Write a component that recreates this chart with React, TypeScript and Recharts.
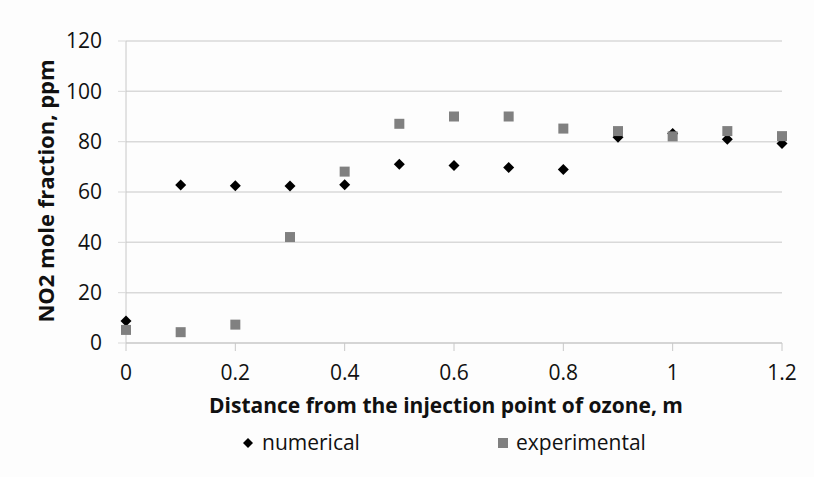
import React from 'react';
import { ScatterChart, Scatter, XAxis, YAxis, CartesianGrid, Label } from 'recharts';

const distances = [0, 0.1, 0.2, 0.3, 0.4, 0.5, 0.6, 0.7, 0.8, 0.9, 1.0, 1.1, 1.2];
const numerical = [8.7, 62.8, 62.5, 62.4, 62.9, 71.0, 70.5, 69.7, 68.9, 81.8, 83.2, 81.0, 79.3];
const experimental = [5.2, 4.3, 7.3, 42.1, 68.1, 87.1, 90.0, 90.0, 85.2, 84.2, 82.1, 84.2, 82.2];
const xTicks = [0, 0.2, 0.4, 0.6, 0.8, 1, 1.2];
const yTicks = [0, 20, 40, 60, 80, 100, 120];

const numericalData = distances.map((x, i) => ({ x, y: numerical[i] }));
const experimentalData = distances.map((x, i) => ({ x, y: experimental[i] }));

const FONT = 'Open Sans, "Noto Sans", sans-serif';

function Diamond(props: any) {
  const { cx, cy } = props;
  const r = 5.5;
  return <polygon points={`${cx},${cy - r} ${cx + r},${cy} ${cx},${cy + r} ${cx - r},${cy}`} fill="#000" />;
}

function Square(props: any) {
  const { cx, cy } = props;
  const s = 10;
  return <rect x={cx - s / 2} y={cy - s / 2} width={s} height={s} fill="#808080" />;
}

// legend drawn as an overlay so it doesn't shrink the plot area
function LegendRow() {
  return (
    <svg width={814} height={477} style={{ position: 'absolute', left: 0, top: 0, pointerEvents: 'none' }}>
      <polygon points="248,438 253,443 248,448 243,443" fill="#000" />
      <text x={262} y={450} fontFamily={FONT} fontSize={21} fill="#111">numerical</text>
      <rect x={498} y={438} width={10} height={10} fill="#808080" />
      <text x={516} y={450} fontFamily={FONT} fontSize={21} fill="#111">experimental</text>
    </svg>
  );
}

export default function App() {
  return (
    <div style={{ position: 'absolute', left: 0, top: 0, width: 814, height: 477, background: '#fdfdfd' }}>
      <ScatterChart width={814} height={477} margin={{ top: 41, right: 32, left: 66, bottom: 94 }}>
        <CartesianGrid vertical={false} stroke="#d9d9d9" strokeWidth={1.5} />
        <XAxis
          type="number"
          dataKey="x"
          domain={[0, 1.2]}
          ticks={xTicks}
          height={40}
          stroke="#c8c8c8"
          tickSize={8}
          tickMargin={14}
          tick={{ fill: '#111', fontSize: 21, fontFamily: FONT }}
          tickFormatter={(v: number) => String(Number(v.toFixed(1)))}
        >
          <Label
            content={() => (
              <text x={446} y={413} textAnchor="middle" fontFamily={FONT} fontSize={21} fontWeight="bold" fill="#111">
                Distance from the injection point of ozone, m
              </text>
            )}
          />
        </XAxis>
        <YAxis
          type="number"
          dataKey="y"
          domain={[0, 120]}
          ticks={yTicks}
          width={60}
          stroke="#c8c8c8"
          tickLine={{ stroke: '#d9d9d9' }}
          tickSize={8}
          tickMargin={16}
          tick={{ fill: '#111', fontSize: 21, fontFamily: FONT }}
        >
          <Label
            content={() => (
              <text
                x={54}
                y={191}
                textAnchor="middle"
                transform="rotate(-90 54 191)"
                fontFamily={FONT}
                fontSize={22}
                fontWeight="bold"
                fill="#111"
              >
                NO2 mole fraction, ppm
              </text>
            )}
          />
        </YAxis>
        <Scatter name="numerical" data={numericalData} shape={<Diamond />} isAnimationActive={false} />
        <Scatter name="experimental" data={experimentalData} shape={<Square />} isAnimationActive={false} />
      </ScatterChart>
      <LegendRow />
    </div>
  );
}
